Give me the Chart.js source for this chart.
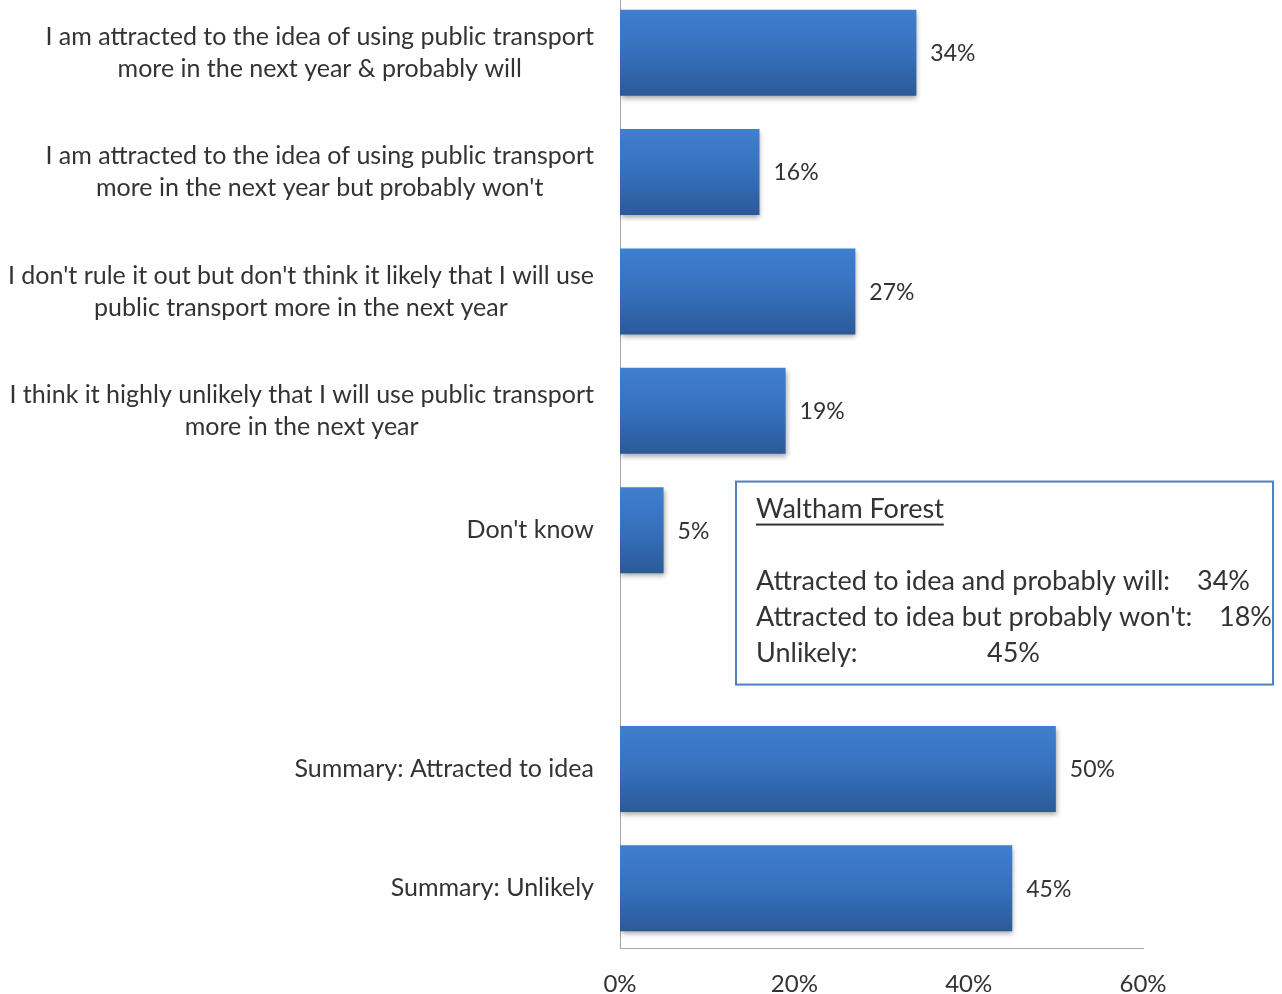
<!DOCTYPE html>
<html>
<head>
<meta charset="utf-8">
<script src="https://cdn.jsdelivr.net/npm/chart.js@4.4.1/dist/chart.umd.min.js"></script>
<style>
  body { margin: 0; background: #fff; }
  .container { position: relative; width: 1282px; height: 994px; overflow: hidden; }
  #myChart { position: absolute; left: 0; top: -7px; }
</style>
</head>
<body>
<div class="container">
  <canvas id="myChart" width="1282" height="1001"></canvas>
</div>
<script>
// answers, one line of the label per array entry ('' keeps the gap row)
const categories = [
  ["I am attracted to the idea of using public transport", "more in the next year & probably will"],
  ["I am attracted to the idea of using public transport", "more in the next year but probably won't"],
  ["I don't rule it out but don't think it likely that I will use", "public transport more in the next year"],
  ["I think it highly unlikely that I will use public transport", "more in the next year"],
  ["Don't know"],
  [""],
  ["Summary: Attracted to idea"],
  ["Summary: Unlikely"]
];
const percents = [34, 16, 27, 19, 5, null, 50, 45];
const xTicks = [0, 20, 40, 60];

// text box
const boxTitle = "Waltham Forest";
const boxLines = ["Attracted to idea and probably will:", "Attracted to idea but probably won't:", "Unlikely:"];
const boxValues = ["34%", "18%", "45%"];

const FONT = "Lato, 'Open Sans', sans-serif";
const TEXT = "#333333";
const ctx = document.getElementById('myChart');

const barShadow = {
  id: 'barShadow',
  beforeDatasetsDraw(chart) {
    const c = chart.ctx;
    c.save();
    c.shadowColor = 'rgba(0,0,0,0.35)';
    c.shadowBlur = 5;
    c.shadowOffsetX = 1;
    c.shadowOffsetY = 3;
  },
  afterDatasetsDraw(chart) {
    chart.ctx.restore();
  }
};

// vertical shading on every bar, from its own top to bottom
const barGradient = {
  id: 'barGradient',
  beforeDatasetsDraw(chart) {
    chart.getDatasetMeta(0).data.forEach((bar) => {
      if (!isFinite(bar.y) || !bar.height) return;
      const h = bar.height / 2;
      const g = chart.ctx.createLinearGradient(0, bar.y - h, 0, bar.y + h);
      g.addColorStop(0, '#3f7fce');
      g.addColorStop(0.5, '#3670bd');
      g.addColorStop(1, '#2b5a98');
      bar.options.backgroundColor = g;
    });
  }
};

const valueLabels = {
  id: 'valueLabels',
  afterDatasetsDraw(chart) {
    const c = chart.ctx;
    c.save();
    c.font = '23px ' + FONT;
    c.fillStyle = TEXT;
    c.textBaseline = 'middle';
    c.textAlign = 'left';
    chart.getDatasetMeta(0).data.forEach((bar, i) => {
      if (percents[i] == null) return;
      c.fillText(percents[i] + '%', bar.x + 14, bar.y + 1);
    });
    c.restore();
  }
};

// wrapped labels: block right-aligned, each line centred in the block
const categoryLabels = {
  id: 'categoryLabels',
  afterDraw(chart) {
    const c = chart.ctx;
    const y = chart.scales.y;
    c.save();
    c.font = '25px ' + FONT;
    c.fillStyle = TEXT;
    c.textBaseline = 'middle';
    c.textAlign = 'center';
    const right = y.right - 26;
    categories.forEach((lines, i) => {
      const mid = y.getPixelForTick(i);
      const w = Math.max(...lines.map(l => c.measureText(l).width));
      lines.forEach((l, j) => {
        c.fillText(l, right - w / 2, mid + (j - (lines.length - 1) / 2) * 32);
      });
    });
    c.restore();
  }
};

const textBox = {
  id: 'textBox',
  afterDraw(chart) {
    const c = chart.ctx;
    const y = chart.scales.y;
    const left = 736, top = y.getPixelForTick(5) - 168, w = 537, h = 203;
    c.save();
    c.fillStyle = '#fff';
    c.fillRect(left, top, w, h);
    c.strokeStyle = '#4f81bd';
    c.lineWidth = 2;
    c.strokeRect(left, top, w, h);
    c.font = '27px ' + FONT;
    c.fillStyle = TEXT;
    c.textBaseline = 'middle';
    c.textAlign = 'left';
    c.fillText(boxTitle, left + 20, top + 28);
    const tw = c.measureText(boxTitle).width;
    c.fillRect(left + 20, top + 42, tw, 2);
    const valueX = [461, 483, 251];
    boxLines.forEach((l, i) => {
      const ly = top + 100 + i * 36;
      c.fillText(l, left + 20, ly);
      c.fillText(boxValues[i], left + valueX[i], ly);
    });
    c.restore();
  }
};

new Chart(ctx, {
  type: 'bar',
  data: {
    labels: categories,
    datasets: [{
      label: 'datos',
      data: percents,
      barPercentage: 0.72,
      categoryPercentage: 1,
      // a function keeps the options per bar, so each bar can get its own gradient
      backgroundColor: () => '#3670bd',
      borderWidth: 0
    }]
  },
  options: {
    indexAxis: 'y',
    responsive: false,
    animation: false,
    layout: { padding: { top: 0, right: 139, bottom: 0, left: 0 } },
    plugins: {
      legend: { display: false },
      tooltip: { enabled: false }
    },
    scales: {
      y: {
        grid: { display: false, drawTicks: false },
        border: { display: true, color: '#a6a6a6', width: 1 },
        ticks: { display: false },
        afterFit(scale) { scale.width = 620; }
      },
      x: {
        min: 0,
        max: 60,
        afterBuildTicks(scale) { scale.ticks = xTicks.map(v => ({ value: v })); },
        grid: { display: false, drawTicks: false },
        border: { display: true, color: '#a6a6a6', width: 1 },
        ticks: {
          padding: 22,
          color: TEXT,
          font: { family: FONT, size: 24 },
          callback: (v) => v + '%'
        },
        afterFit(scale) { scale.height = 46; }
      }
    }
  },
  plugins: [barGradient, barShadow, valueLabels, categoryLabels, textBox]
});
</script>
</body>
</html>
